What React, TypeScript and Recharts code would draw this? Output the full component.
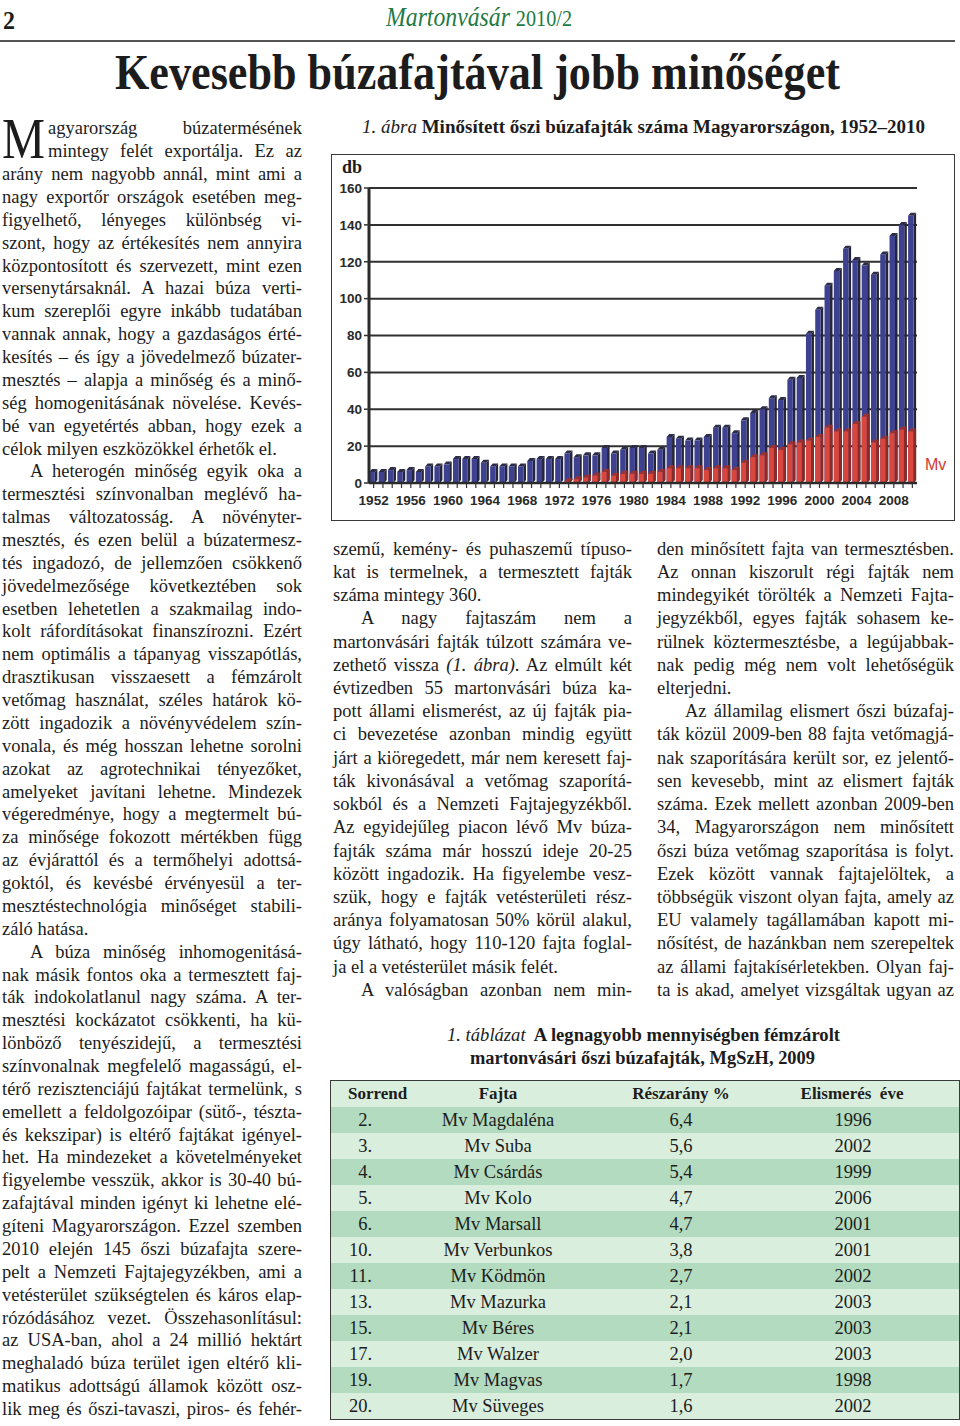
import React, { useLayoutEffect, useRef } from 'react';
import { BarChart, Bar, XAxis, YAxis, CartesianGrid } from 'recharts';

// ---------------- DATA ----------------
const years = [
  1952, 1953, 1954, 1955, 1956, 1957, 1958, 1959, 1960, 1961, 1962, 1963, 1964, 1965, 1966,
  1967, 1968, 1969, 1970, 1971, 1972, 1973, 1974, 1975, 1976, 1977, 1978, 1979, 1980, 1981,
  1982, 1983, 1984, 1985, 1986, 1987, 1988, 1989, 1990, 1991, 1992, 1993, 1994, 1995, 1996,
  1997, 1998, 1999, 2000, 2001, 2002, 2003, 2004, 2005, 2006, 2007, 2008, 2009, 2010,
];
// all certified winter wheat varieties (db)
const totalVarieties = [
  6, 6, 7, 6, 7, 6, 9, 9, 10, 13, 13, 13, 11, 9, 9,
  9, 9, 12, 13, 13, 13, 16, 14, 15, 15, 19, 16, 18, 19, 19,
  16, 18, 25, 24, 23, 23, 25, 30, 30, 27, 34, 38, 40, 46, 45,
  56, 57, 81, 94, 107, 115, 127, 121, 118, 113, 124, 134, 140, 145,
];
// Martonvásár (Mv) varieties (db)
const mvVarieties = [
  0, 0, 0, 0, 0, 0, 0, 0, 0, 0, 0, 0, 0, 0, 0,
  0, 0, 0, 0, 0, 0, 1, 2, 3, 4, 6, 4, 5, 5, 5,
  5, 6, 8, 8, 8, 8, 7, 8, 8, 7, 11, 14, 15, 19, 18,
  21, 22, 23, 25, 30, 28, 28, 32, 36, 22, 24, 27, 29, 28,
];
const yTicks = [0, 20, 40, 60, 80, 100, 120, 140, 160];
const xLabelYears = [1952, 1956, 1960, 1964, 1968, 1972, 1976, 1980, 1984, 1988, 1992, 1996, 2000, 2004, 2008];

const tableRank = ['2.', '3.', '4.', '5.', '6.', '10.', '11.', '13.', '15.', '17.', '19.', '20.'];
const tableVariety = ['Mv Magdaléna', 'Mv Suba', 'Mv Csárdás', 'Mv Kolo', 'Mv Marsall', 'Mv Verbunkos', 'Mv Ködmön', 'Mv Mazurka', 'Mv Béres', 'Mv Walzer', 'Mv Magvas', 'Mv Süveges'];
const tableShare = ['6,4', '5,6', '5,4', '4,7', '4,7', '3,8', '2,7', '2,1', '2,1', '2,0', '1,7', '1,6'];
const tableYear = ['1996', '2002', '1999', '2006', '2001', '2001', '2002', '2003', '2003', '2003', '1998', '2002'];
const tableHeaders = ['Sorrend', 'Fajta', 'Részarány %', 'Elismerés\u00a0 éve'];

const chartData = years.map((year, i) => ({ year, total: totalVarieties[i], mv: mvVarieties[i] }));

// ---------------- TEXT ----------------
type Para = { lines: React.ReactNode[]; indent?: boolean; end?: boolean; dropCap?: boolean };

const leftParas: Para[] = [
  {
    dropCap: true,
    end: true,
    lines: [
      'agyarország búzatermésének',
      'mintegy felét exportálja. Ez az',
      'arány nem nagyobb annál, mint ami a',
      'nagy exportőr országok esetében meg-',
      'figyelhető, lényeges különbség vi-',
      'szont, hogy az értékesítés nem annyira',
      'központosított és szervezett, mint ezen',
      'versenytársaknál. A hazai búza verti-',
      'kum szereplői egyre inkább tudatában',
      'vannak annak, hogy a gazdaságos érté-',
      'kesítés – és így a jövedelmező búzater-',
      'mesztés – alapja a minőség és a minő-',
      'ség homogenitásának növelése. Kevés-',
      'bé van egyetértés abban, hogy ezek a',
      'célok milyen eszközökkel érhetők el.',
    ],
  },
  {
    indent: true,
    end: true,
    lines: [
      'A heterogén minőség egyik oka a',
      'termesztési színvonalban meglévő ha-',
      'talmas változatosság. A növényter-',
      'mesztés, és ezen belül a búzatermesz-',
      'tés ingadozó, de jellemzően csökkenő',
      'jövedelmezősége következtében sok',
      'esetben lehetetlen a szakmailag indo-',
      'kolt ráfordításokat finanszírozni. Ezért',
      'nem optimális a tápanyag visszapótlás,',
      'drasztikusan visszaesett a fémzárolt',
      'vetőmag használat, széles határok kö-',
      'zött ingadozik a növényvédelem szín-',
      'vonala, és még hosszan lehetne sorolni',
      'azokat az agrotechnikai tényezőket,',
      'amelyeket javítani lehetne. Mindezek',
      'végeredménye, hogy a megtermelt bú-',
      'za minősége fokozott mértékben függ',
      'az évjárattól és a termőhelyi adottsá-',
      'goktól, és kevésbé érvényesül a ter-',
      'mesztéstechnológia minőséget stabili-',
      'záló hatása.',
    ],
  },
  {
    indent: true,
    lines: [
      'A búza minőség inhomogenitásá-',
      'nak másik fontos oka a termesztett faj-',
      'ták indokolatlanul nagy száma. A ter-',
      'mesztési kockázatot csökkenti, ha kü-',
      'lönböző tenyészidejű, a termesztési',
      'színvonalnak megfelelő magasságú, el-',
      'térő rezisztenciájú fajtákat termelünk, s',
      'emellett a feldolgozóipar (sütő-, tészta-',
      'és kekszipar) is eltérő fajtákat igényel-',
      'het. Ha mindezeket a követelményeket',
      'figyelembe vesszük, akkor is 30-40 bú-',
      'zafajtával minden igényt ki lehetne elé-',
      'gíteni Magyarországon. Ezzel szemben',
      '2010 elején 145 őszi búzafajta szere-',
      'pelt a Nemzeti Fajtajegyzékben, ami a',
      'vetésterület szükségtelen és káros elap-',
      'rózódásához vezet. Összehasonlításul:',
      'az USA-ban, ahol a 24 millió hektárt',
      'meghaladó búza terület igen eltérő kli-',
      'matikus adottságú államok között osz-',
      'lik meg és őszi-tavaszi, piros- és fehér-',
    ],
  },
];

const midParas: Para[] = [
  {
    end: true,
    lines: [
      'szemű, kemény- és puhaszemű típuso-',
      'kat is termelnek, a termesztett fajták',
      'száma mintegy 360.',
    ],
  },
  {
    indent: true,
    end: true,
    lines: [
      'A nagy fajtaszám nem a',
      'martonvásári fajták túlzott számára ve-',
      <>zethető vissza <i>(1. ábra)</i>. Az elmúlt két</>,
      'évtizedben 55 martonvásári búza ka-',
      'pott állami elismerést, az új fajták pia-',
      'ci bevezetése azonban mindig együtt',
      'járt a kiöregedett, már nem keresett faj-',
      'ták kivonásával a vetőmag szaporítá-',
      'sokból és a Nemzeti Fajtajegyzékből.',
      'Az egyidejűleg piacon lévő Mv búza-',
      'fajták száma már hosszú ideje 20-25',
      'között ingadozik. Ha figyelembe vesz-',
      'szük, hogy e fajták vetésterületi rész-',
      'aránya folyamatosan 50% körül alakul,',
      'úgy látható, hogy 110-120 fajta foglal-',
      'ja el a vetésterület másik felét.',
    ],
  },
  { indent: true, lines: ['A valóságban azonban nem min-'] },
];

const rightParas: Para[] = [
  {
    end: true,
    lines: [
      'den minősített fajta van termesztésben.',
      'Az onnan kiszorult régi fajták nem',
      'mindegyikét törölték a Nemzeti Fajta-',
      'jegyzékből, egyes fajták sohasem ke-',
      'rülnek köztermesztésbe, a legújabbak-',
      'nak pedig még nem volt lehetőségük',
      'elterjedni.',
    ],
  },
  {
    indent: true,
    lines: [
      'Az államilag elismert őszi búzafaj-',
      'ták közül 2009-ben 88 fajta vetőmagjá-',
      'nak szaporítására került sor, ez jelentő-',
      'sen kevesebb, mint az elismert fajták',
      'száma. Ezek mellett azonban 2009-ben',
      '34, Magyarországon nem minősített',
      'őszi búza vetőmag szaporítása is folyt.',
      'Ezek között vannak fajtajelöltek, a',
      'többségük viszont olyan fajta, amely az',
      'EU valamely tagállamában kapott mi-',
      'nősítést, de hazánkban nem szerepeltek',
      'az állami fajtakísérletekben. Olyan faj-',
      'ta is akad, amelyet vizsgáltak ugyan az',
    ],
  },
];

// ---------------- HELPERS ----------------
const SERIF = '"Liberation Serif", "Times New Roman", Times, serif';
const SANS = '"Liberation Sans", Arial, Helvetica, sans-serif';
const INK = '#1c1c1c';

function baseTop(baseline: number, L: number, F: number) {
  return baseline - ((L - 1.107 * F) / 2 + 0.891 * F);
}

type FitProps = {
  left: number;
  top: number;
  width: number;
  height: number;
  fontSize: number;
  mode: 'justify' | 'left' | 'stretch' | 'center' | 'right';
  style?: React.CSSProperties;
  children: React.ReactNode;
};

function FitText({ left, top, width, height, fontSize, mode, style, children }: FitProps) {
  const ref = useRef<HTMLSpanElement>(null);
  useLayoutEffect(() => {
    const fit = () => {
      const el = ref.current;
      if (!el) return;
      el.style.wordSpacing = '0px';
      el.style.transform = 'none';
      const natural = el.getBoundingClientRect().width;
      if (!natural) return;
      if (mode === 'stretch') {
        el.style.transform = `scaleX(${width / natural})`;
        return;
      }
      if (natural > width) {
        el.style.transform = `scaleX(${width / natural})`;
        return;
      }
      if (mode === 'justify') {
        const spaces = ((el.textContent || '').match(/ /g) || []).length;
        if (spaces) el.style.wordSpacing = `${(width - natural) / spaces}px`;
      }
    };
    fit();
    const fonts = (document as any).fonts;
    if (fonts && fonts.ready) fonts.ready.then(fit);
  }, [width, mode]);
  const align = mode === 'center' ? 'center' : mode === 'right' ? 'right' : 'left';
  const origin = mode === 'center' ? 'center' : mode === 'right' ? 'right' : 'left';
  return (
    <div
      style={{
        position: 'absolute',
        left,
        top,
        width,
        height,
        lineHeight: `${height}px`,
        fontSize,
        whiteSpace: 'nowrap',
        textAlign: align,
        ...style,
      }}
    >
      <span ref={ref} style={{ display: 'inline-block', transformOrigin: origin }}>
        {children}
      </span>
    </div>
  );
}

function Column({
  paras,
  left,
  width,
  firstBaseline,
  lineHeight,
  fontSize,
}: {
  paras: Para[];
  left: number;
  width: number;
  firstBaseline: number;
  lineHeight: number;
  fontSize: number;
}) {
  const out: React.ReactNode[] = [];
  let n = 0;
  paras.forEach((p, pi) => {
    p.lines.forEach((ln, i) => {
      const off = p.dropCap && i < 2 ? 46 : p.indent && i === 0 ? 28 : 0;
      const last = !!p.end && i === p.lines.length - 1;
      const baseline = firstBaseline + n * lineHeight;
      out.push(
        <FitText
          key={`${pi}-${i}`}
          left={left + off}
          top={baseTop(baseline, lineHeight, fontSize)}
          width={width - off}
          height={lineHeight}
          fontSize={fontSize}
          mode={last ? 'left' : 'justify'}
        >
          {ln}
        </FitText>
      );
      n++;
    });
  });
  return <>{out}</>;
}

// ---------------- CHART SHAPES ----------------
function Bar3D(props: any, front: string, side: string, top: string, frontRatio: number) {
  const { x, y, width, height } = props;
  if (!height || height <= 0 || !isFinite(y)) return <g />;
  const fw = width * frontRatio;
  const dx = width - fw;
  const dy = 3;
  return (
    <g>
      <polygon
        points={`${x + fw},${y} ${x + width},${y - dy} ${x + width},${y + height - dy} ${x + fw},${y + height}`}
        fill={side}
      />
      <polygon points={`${x},${y} ${x + dx},${y - dy} ${x + width},${y - dy} ${x + fw},${y}`} fill={top} />
      <rect x={x} y={y} width={fw} height={height} fill={front} />
    </g>
  );
}
const BlueBar = (p: any) => Bar3D(p, '#3d4190', '#24243a', '#2c2c46', 0.68);
const RedBar = (p: any) => Bar3D(p, '#d9463e', '#8a2b29', '#9a3230', 0.64);

const renderYearTick = (props: any) => {
  const { x, y, payload } = props;
  if (!xLabelYears.includes(payload.value)) return <g />;
  return (
    <text x={x} y={y + 3} dy="0.71em" textAnchor="middle" fontSize={13.5} fontWeight={700} fill="#2a2a2a" fontFamily={SANS}>
      {payload.value}
    </text>
  );
};

function Chart() {
  return (
    <BarChart
      width={622}
      height={365}
      data={chartData}
      margin={{ top: 33, right: 37, bottom: 7, left: 0 }}
      barCategoryGap={0.4}
    >
      <CartesianGrid xAxisId="a" yAxisId="l" vertical={false} stroke="#303030" strokeWidth={2} />
      <XAxis
        xAxisId="a"
        dataKey="year"
        interval={0}
        height={30}
        tickSize={5}
        tickMargin={4}
        tickLine={{ stroke: '#333', strokeWidth: 1.2 }}
        axisLine={{ stroke: '#2a2a2a', strokeWidth: 2.5 }}
        tick={renderYearTick}
      />
      <XAxis xAxisId="b" dataKey="year" hide />
      <YAxis
        yAxisId="l"
        domain={[0, 160]}
        ticks={yTicks}
        interval={0}
        width={37}
        tickSize={5}
        tickMargin={2}
        axisLine={{ stroke: '#2a2a2a', strokeWidth: 3 }}
        tickLine={{ stroke: '#333', strokeWidth: 1.5 }}
        tick={{ fontSize: 13.5, fontWeight: 700, fill: '#2a2a2a', fontFamily: SANS }}
      />
      <YAxis
        yAxisId="r"
        orientation="right"
        domain={[0, 160]}
        width={0}
        tick={false}
        tickLine={false}
        axisLine={{ stroke: '#333', strokeWidth: 1.5 }}
      />
      <Bar xAxisId="a" yAxisId="l" dataKey="total" shape={BlueBar} isAnimationActive={false} />
      <Bar xAxisId="b" yAxisId="l" dataKey="mv" shape={RedBar} isAnimationActive={false} />
    </BarChart>
  );
}

// ---------------- TABLE ----------------
const TABLE_LEFT = 330;
const TABLE_TOP = 1080;
const TABLE_W = 628;
const ROW_H = 26;
const LIGHT = '#d9eedd';
const DARK = '#b3dbbf';

function Table() {
  const cell = (text: string, left: number, width: number, align: 'left' | 'center' | 'right', bold = false) => (
    <div
      style={{
        position: 'absolute',
        left: left - TABLE_LEFT,
        width,
        top: 0,
        height: ROW_H,
        lineHeight: `${ROW_H}px`,
        textAlign: align,
        fontWeight: bold ? 700 : 400,
        fontSize: bold ? 17 : 18.5,
        whiteSpace: 'nowrap',
      }}
    >
      {text}
    </div>
  );
  return (
    <div
      style={{
        position: 'absolute',
        left: TABLE_LEFT,
        top: TABLE_TOP,
        width: TABLE_W,
        height: ROW_H * (tableRank.length + 1),
        border: '1.5px solid #3a3a3a',
        boxSizing: 'content-box',
        color: INK,
      }}
    >
      <div style={{ position: 'absolute', left: 0, top: 0, width: TABLE_W, height: ROW_H, background: LIGHT }}>
        {cell(tableHeaders[0], 347, 100, 'left', true)}
        {cell(tableHeaders[1], 397, 200, 'center', true)}
        {cell(tableHeaders[2], 580, 200, 'center', true)}
        {cell(tableHeaders[3], 751, 200, 'center', true)}
      </div>
      {tableRank.map((r, i) => (
        <div
          key={r}
          style={{
            position: 'absolute',
            left: 0,
            top: ROW_H * (i + 1),
            width: TABLE_W,
            height: ROW_H,
            background: i % 2 === 0 ? DARK : LIGHT,
          }}
        >
          {cell(r, 330, 41, 'right')}
          {cell(tableVariety[i], 397, 200, 'center')}
          {cell(tableShare[i], 580, 200, 'center')}
          {cell(tableYear[i], 752, 200, 'center')}
        </div>
      ))}
    </div>
  );
}

// ---------------- PAGE ----------------
export default function App() {
  const F = 18.5;
  return (
    <div
      style={{
        position: 'absolute',
        left: 0,
        top: 0,
        width: 960,
        height: 1426,
        background: '#fff',
        fontFamily: SERIF,
        color: INK,
        overflow: 'hidden',
      }}
    >
      {/* header */}
      <FitText left={3} top={baseTop(30, 30, 26)} width={12} height={30} fontSize={26} mode="stretch" style={{ fontWeight: 700 }}>
        2
      </FitText>
      <FitText left={386} top={baseTop(26, 30, 27)} width={186} height={30} fontSize={27} mode="stretch" style={{ color: '#1f7a45' }}>
        <i>Martonvásár</i> <span style={{ fontSize: 23 }}>2010/2</span>
      </FitText>
      <div style={{ position: 'absolute', left: 0, top: 40, width: 955, height: 1.5, background: '#555' }} />
      <FitText left={115} top={baseTop(89, 56, 50)} width={725} height={56} fontSize={50} mode="stretch" style={{ fontWeight: 700 }}>
        Kevesebb búzafajtával jobb minőséget
      </FitText>

      {/* left column */}
      <FitText left={2} top={baseTop(157.9, 60, 56)} width={43} height={60} fontSize={56} mode="stretch">
        M
      </FitText>
      <Column paras={leftParas} left={2} width={300} firstBaseline={135} lineHeight={22.87} fontSize={F} />

      {/* chart caption */}
      <FitText left={362} top={baseTop(133, 24, 19)} width={563} height={24} fontSize={19} mode="stretch" style={{ fontWeight: 700 }}>
        <i style={{ fontWeight: 400 }}>1. ábra</i> Minősített őszi búzafajták száma Magyarországon, 1952–2010
      </FitText>

      {/* chart box */}
      <div
        style={{
          position: 'absolute',
          left: 331,
          top: 154,
          width: 624,
          height: 367,
          border: '1px solid #3a3a3a',
          boxSizing: 'border-box',
        }}
      />
      <div style={{ position: 'absolute', left: 332, top: 155 }}>
        <Chart />
      </div>
      <div
        style={{
          position: 'absolute',
          left: 342,
          top: baseTop(173, 20, 18),
          height: 20,
          lineHeight: '20px',
          fontSize: 18,
          fontWeight: 700,
          fontFamily: SERIF,
        }}
      >
        db
      </div>
      <div
        style={{
          position: 'absolute',
          left: 925,
          top: 455,
          height: 20,
          lineHeight: '20px',
          fontSize: 16,
          color: '#cf3a33',
          fontFamily: SANS,
        }}
      >
        Mv
      </div>

      {/* middle & right columns */}
      <Column paras={midParas} left={333} width={299} firstBaseline={555.5} lineHeight={23.22} fontSize={F} />
      <Column paras={rightParas} left={657} width={297} firstBaseline={555.5} lineHeight={23.22} fontSize={F} />

      {/* table caption */}
      <FitText left={447} top={baseTop(1042, 23, 18)} width={393} height={23} fontSize={18} mode="stretch" style={{ fontWeight: 700 }}>
        <i style={{ fontWeight: 400 }}>1. táblázat</i>&nbsp; A legnagyobb mennyiségben fémzárolt
      </FitText>
      <FitText left={470} top={baseTop(1065, 23, 18)} width={345} height={23} fontSize={18} mode="stretch" style={{ fontWeight: 700 }}>
        martonvásári őszi búzafajták, MgSzH, 2009
      </FitText>

      <Table />
    </div>
  );
}
